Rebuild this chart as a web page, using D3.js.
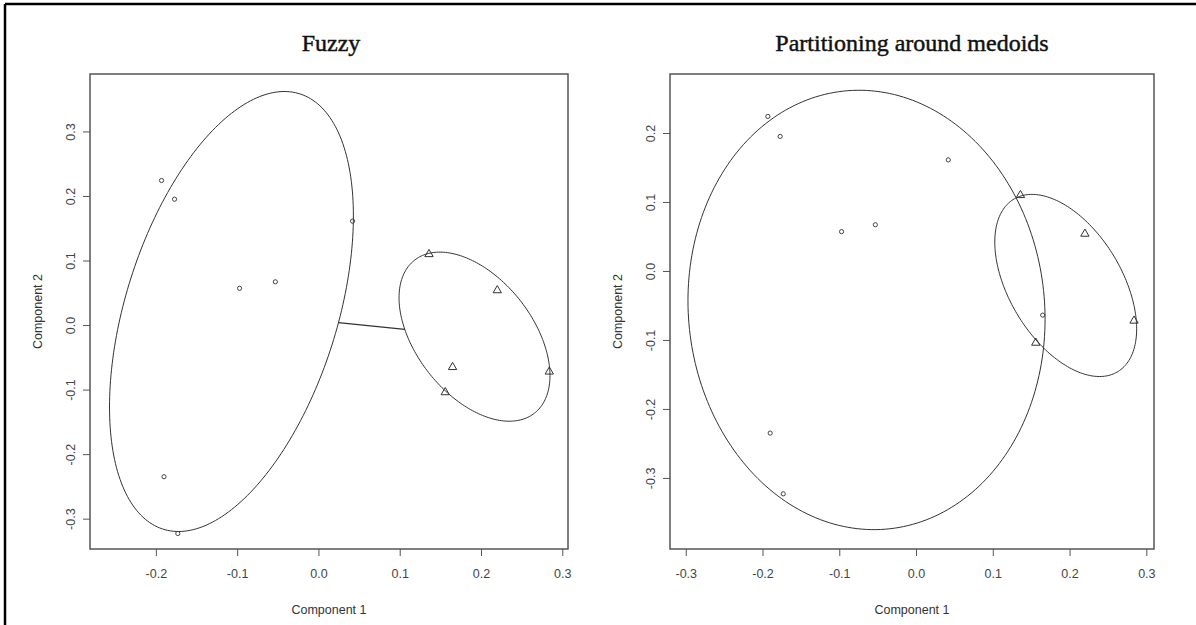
<!DOCTYPE html>
<html>
<head>
<meta charset="utf-8">
<script src="https://cdn.jsdelivr.net/npm/d3@7"></script>
<style>
  html, body { margin: 0; padding: 0; background: #fff; }
  svg { display: block; }
</style>
</head>
<body>
<svg id="chart" width="1196" height="625"></svg>
<script>
// Principal-component coordinates of the twelve observations
const comp1 = [-0.193, -0.177, 0.042, -0.097, -0.053, -0.190, -0.173, 0.136, 0.220, 0.165, 0.156, 0.284];
const comp2 = [0.224, 0.195, 0.161, 0.057, 0.067, -0.235, -0.323, 0.111, 0.055, -0.064, -0.103, -0.071];

// Cluster memberships for the two methods
const fuzzyCluster = [1, 1, 1, 1, 1, 1, 1, 2, 2, 2, 2, 2];
const pamCluster   = [1, 1, 1, 1, 1, 1, 1, 2, 2, 1, 2, 2];

// Spanning ellipses: centre (x, y) and shape matrix (sxx, sxy, syy)
const fuzzyCenters = [[-0.107, 0.021], [0.192, -0.018]];
const fuzzyShapes  = [[0.0225, 0.0222, 0.1162], [0.00862, -0.0056, 0.01716]];
const pamCenters   = [[-0.0645, -0.0565], [0.195, -0.021]];
const pamShapes    = [[0.0541, -0.0031, 0.1014], [0.008538, -0.00581, 0.017424]];

// Axis limits and ticks per panel
const fuzzyXLim = [-0.281, 0.307];
const fuzzyYLim = [-0.347, 0.389];
const pamXLim   = [-0.3205, 0.310];
const pamYLim   = [-0.403, 0.2855];
const fuzzyXTicks = [-0.2, -0.1, 0.0, 0.1, 0.2, 0.3];
const fuzzyYTicks = [-0.3, -0.2, -0.1, 0.0, 0.1, 0.2, 0.3];
const pamXTicks   = [-0.3, -0.2, -0.1, 0.0, 0.1, 0.2, 0.3];
const pamYTicks   = [-0.3, -0.2, -0.1, 0.0, 0.1, 0.2];

const titles = ["Fuzzy", "Partitioning around medoids"];
const xTitle = "Component 1";
const yTitle = "Component 2";

const svg = d3.select("#chart");
const sans = "'Liberation Sans', Arial, sans-serif";

// outer frame edges
svg.append("line").attr("x1", 5).attr("y1", 4).attr("x2", 5).attr("y2", 625)
  .attr("stroke", "#000").attr("stroke-width", 2.5);
svg.append("line").attr("x1", 5).attr("y1", 4).attr("x2", 1196).attr("y2", 4)
  .attr("stroke", "#000").attr("stroke-width", 2.5);

const fmt = d => (Math.abs(d) < 1e-9 ? 0 : d).toFixed(1);

function ellipsePoints(center, shape, n) {
  const [sxx, sxy, syy] = shape;
  const l11 = Math.sqrt(sxx);
  const l21 = sxy / l11;
  const l22 = Math.sqrt(syy - l21 * l21);
  return d3.range(n + 1).map(i => {
    const t = 2 * Math.PI * i / n;
    const c = Math.cos(t), s = Math.sin(t);
    return [center[0] + l11 * c, center[1] + l21 * c + l22 * s];
  });
}

// point where the ray from the centre in direction d meets the ellipse
function boundaryToward(center, shape, d) {
  const [a, b, c] = shape;
  const det = a * c - b * b;
  const q = (c * d[0] * d[0] - 2 * b * d[0] * d[1] + a * d[1] * d[1]) / det;
  const k = 1 / Math.sqrt(q);
  return [center[0] + d[0] * k, center[1] + d[1] * k];
}

function panel(opts) {
  const { left, right, top, bottom, xLim, yLim, xTicks, yTicks,
          centers, shapes, clusters, title, titleX, connect, yTitleX } = opts;
  const x = d3.scaleLinear().domain(xLim).range([left, right]);
  const y = d3.scaleLinear().domain(yLim).range([bottom, top]);
  const g = svg.append("g");

  // title
  g.append("text")
    .attr("x", titleX).attr("y", 51)
    .attr("text-anchor", "middle")
    .attr("font-family", "'Liberation Serif', 'Times New Roman', serif")
    .attr("font-size", 24)
    .attr("fill", "#111")
    .attr("stroke", "#111").attr("stroke-width", 0.45)
    .text(title);

  // x axis
  const xa = g.append("g").attr("transform", `translate(0,${bottom})`)
    .call(d3.axisBottom(x).tickValues(xTicks).tickFormat(fmt).tickSize(7).tickPadding(13));
  xa.select(".domain").remove();
  xa.selectAll("line").attr("stroke", "#555");
  xa.selectAll("text").attr("font-family", sans)
    .attr("font-size", 12.5).attr("fill", "#444");

  // y axis with labels turned parallel to the axis
  const ya = g.append("g").attr("transform", `translate(${left},0)`)
    .call(d3.axisLeft(y).tickValues(yTicks).tickFormat(fmt).tickSize(7));
  ya.select(".domain").remove();
  ya.selectAll("line").attr("stroke", "#555");
  ya.selectAll("text")
    .attr("transform", "rotate(-90)")
    .attr("x", 0).attr("y", -15).attr("dy", 0)
    .attr("text-anchor", "middle")
    .attr("font-family", sans)
    .attr("font-size", 12.5).attr("fill", "#444");

  // axis titles
  g.append("text")
    .attr("x", (left + right) / 2).attr("y", 614)
    .attr("text-anchor", "middle")
    .attr("font-family", sans)
    .attr("font-size", 12.5).attr("fill", "#333")
    .text(xTitle);
  g.append("text")
    .attr("transform", `translate(${yTitleX},${(top + bottom) / 2}) rotate(-90)`)
    .attr("text-anchor", "middle")
    .attr("font-family", sans)
    .attr("font-size", 12.5).attr("fill", "#333")
    .text(yTitle);

  // ellipses
  const line = d3.line().x(d => x(d[0])).y(d => y(d[1]));
  centers.forEach((c, i) => {
    g.append("path")
      .attr("d", line(ellipsePoints(c, shapes[i], 240)))
      .attr("fill", "none").attr("stroke", "#333").attr("stroke-width", 1);
  });

  // segment joining the two ellipses along the line of centres
  if (connect) {
    const d = [centers[1][0] - centers[0][0], centers[1][1] - centers[0][1]];
    const p0 = boundaryToward(centers[0], shapes[0], d);
    const p1 = boundaryToward(centers[1], shapes[1], [-d[0], -d[1]]);
    g.append("path").attr("d", line([p0, p1]))
      .attr("fill", "none").attr("stroke", "#333").attr("stroke-width", 1.2);
  }

  // observations: circles for cluster 1, triangles for cluster 2
  const pts = comp1.map((v, i) => ({ x: v, y: comp2[i], c: clusters[i] }));
  g.selectAll("circle.obs").data(pts.filter(p => p.c === 1)).join("circle")
    .attr("class", "obs")
    .attr("cx", d => x(d.x)).attr("cy", d => y(d.y)).attr("r", 2.1)
    .attr("fill", "none").attr("stroke", "#444").attr("stroke-width", 1);
  const tri = d3.symbol().type(d3.symbolTriangle).size(30);
  g.selectAll("path.obs").data(pts.filter(p => p.c === 2)).join("path")
    .attr("class", "obs")
    .attr("d", tri)
    .attr("transform", d => `translate(${x(d.x)},${y(d.y) + 0.8})`)
    .attr("fill", "none").attr("stroke", "#333").attr("stroke-width", 1);

  // plot box
  g.append("rect")
    .attr("x", left).attr("y", top)
    .attr("width", right - left).attr("height", bottom - top)
    .attr("fill", "none").attr("stroke", "#555").attr("stroke-width", 1.5);
}

panel({ left: 90, right: 568, top: 74, bottom: 549,
        xLim: fuzzyXLim, yLim: fuzzyYLim, xTicks: fuzzyXTicks, yTicks: fuzzyYTicks,
        centers: fuzzyCenters, shapes: fuzzyShapes, clusters: fuzzyCluster,
        title: titles[0], titleX: 331, connect: true, yTitleX: 42 });
panel({ left: 670, right: 1154, top: 74, bottom: 549,
        xLim: pamXLim, yLim: pamYLim, xTicks: pamXTicks, yTicks: pamYTicks,
        centers: pamCenters, shapes: pamShapes, clusters: pamCluster,
        title: titles[1], titleX: 912, connect: false, yTitleX: 622 });
</script>
</body>
</html>
